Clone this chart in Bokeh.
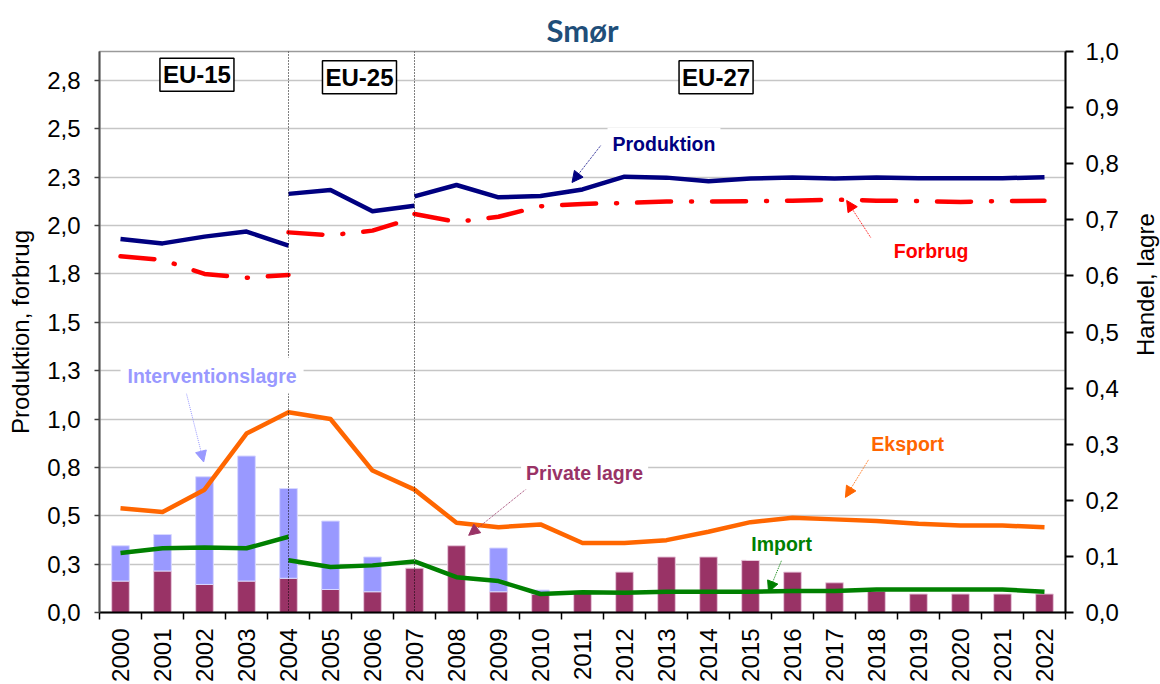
import math
from bokeh.plotting import figure
from bokeh.models import (Range1d, LinearAxis, FixedTicker, Span, Label, Arrow,
                          NormalHead, ColumnDataSource)
from bokeh.embed import file_html
from bokeh.resources import INLINE

# ---------------- data ----------------
years = list(range(2000, 2023))
year_labels = [str(y) for y in years]

left_ticks = [0.0, 0.25, 0.5, 0.75, 1.0, 1.25, 1.5, 1.75, 2.0, 2.25, 2.5, 2.75]
left_tick_labels = ["0,0", "0,3", "0,5", "0,8", "1,0", "1,3", "1,5", "1,8",
                    "2,0", "2,3", "2,5", "2,8"]
right_ticks = [0.0, 0.1, 0.2, 0.3, 0.4, 0.5, 0.6, 0.7, 0.8, 0.9, 1.0]
right_tick_labels = ["0,0", "0,1", "0,2", "0,3", "0,4", "0,5", "0,6", "0,7",
                     "0,8", "0,9", "1,0"]

years_eu15 = [2000, 2001, 2002, 2003, 2004]
years_eu25 = [2004, 2005, 2006, 2007]
years_eu27 = list(range(2007, 2023))

# left axis (mio. t)
produktion_eu15 = [1.931, 1.908, 1.943, 1.969, 1.897]
produktion_eu25 = [2.164, 2.184, 2.074, 2.103]
produktion_eu27 = [2.151, 2.210, 2.146, 2.153, 2.187, 2.253, 2.248, 2.229,
                   2.243, 2.249, 2.244, 2.249, 2.245, 2.245, 2.245, 2.250]

forbrug_eu15 = [1.841, 1.823, 1.750, 1.730, 1.745]
forbrug_eu25 = [1.965, 1.950, 1.974, 2.040]
forbrug_eu27 = [2.060, 2.019, 2.046, 2.100, 2.112, 2.117, 2.124, 2.124,
                2.126, 2.129, 2.134, 2.129, 2.127, 2.122, 2.127, 2.129]

# right axis (mio. t)
eksport = [0.186, 0.179, 0.219, 0.319, 0.357, 0.345, 0.253, 0.219, 0.160,
           0.152, 0.157, 0.124, 0.124, 0.129, 0.144, 0.161, 0.169, 0.166,
           0.163, 0.158, 0.155, 0.155, 0.152]

import_eu15 = [0.106, 0.1145, 0.116, 0.1145, 0.135]
import_eu25 = [0.093, 0.081, 0.084, 0.091]
import_eu27 = [0.091, 0.063, 0.056, 0.033, 0.036, 0.035, 0.037, 0.037,
               0.037, 0.0385, 0.0385, 0.041, 0.041, 0.041, 0.041, 0.037]

private_lagre = [0.056, 0.074, 0.050, 0.056, 0.061, 0.041, 0.037, 0.079,
                 0.119, 0.037, 0.033, 0.038, 0.072, 0.099, 0.099, 0.093,
                 0.072, 0.053, 0.038, 0.033, 0.033, 0.033, 0.033]
interventionslagre = [0.063, 0.065, 0.192, 0.223, 0.160, 0.122, 0.062, 0.0,
                      0.0, 0.078, 0.007, 0.0, 0.0, 0.0, 0.0, 0.0, 0.0, 0.0,
                      0.0, 0.0, 0.0, 0.0, 0.0]

# ---------------- figure ----------------
FONT = "Liberation Sans"

p = figure(width=1160, height=684, output_backend="svg", toolbar_location=None,
           x_range=Range1d(1999.5, 2022.5), y_range=Range1d(0, 2.9),
           min_border_left=99, min_border_right=95, min_border_top=51,
           min_border_bottom=72, background_fill_color="white",
           border_fill_color="white")
p.extra_y_ranges = {"right": Range1d(0, 1.0)}

p.title.text = "Smør"
p.title.align = "center"
p.title.vertical_align = "middle"
p.title.text_font = "Lato"
p.title.text_font_size = "31px"
p.title.text_font_style = "bold"
p.title.text_color = "#1F4E79"
p.title.standoff = 4

p.outline_line_color = "#9A9A9A"
p.outline_line_width = 1.5

# x axis
xa = p.xaxis[0]
xa.ticker = FixedTicker(ticks=years, minor_ticks=[y - 0.5 for y in years] + [years[-1] + 0.5])
xa.major_label_overrides = {y: s for y, s in zip(years, year_labels)}
xa.major_label_orientation = math.pi / 2
xa.major_label_text_font = FONT
xa.major_label_text_font_size = "24px"
xa.major_label_text_color = "black"
xa.major_tick_line_color = None
xa.major_tick_out = 7
xa.major_tick_in = 0
xa.minor_tick_line_color = "black"
xa.minor_tick_line_width = 1.5
xa.minor_tick_out = 7
xa.minor_tick_in = 0
xa.major_label_standoff = 9
xa.axis_line_color = "black"
xa.axis_line_width = 2

# left axis
ya = p.yaxis[0]
ya.ticker = FixedTicker(ticks=left_ticks, minor_ticks=[])
ya.major_label_overrides = {t: s for t, s in zip(left_ticks, left_tick_labels)}
ya.major_label_text_font = FONT
ya.major_label_text_font_size = "24px"
ya.major_label_text_color = "black"
ya.major_tick_out = 5
ya.major_tick_in = 0
ya.major_tick_line_color = "#404040"
ya.major_tick_line_width = 1.5
ya.minor_tick_line_color = None
ya.major_label_standoff = 14
ya.axis_line_color = "#505050"
ya.axis_line_width = 2
ya.axis_label = "Produktion, forbrug"
ya.axis_label_text_font = FONT
ya.axis_label_text_font_size = "24px"
ya.axis_label_text_font_style = "normal"
ya.axis_label_text_color = "black"
ya.axis_label_standoff = 10

# right axis
ra = LinearAxis(y_range_name="right", ticker=FixedTicker(ticks=right_ticks, minor_ticks=[]))
ra.major_label_overrides = {t: s for t, s in zip(right_ticks, right_tick_labels)}
ra.major_label_text_font = FONT
ra.major_label_text_font_size = "24px"
ra.major_label_text_color = "black"
ra.major_tick_out = 8
ra.major_tick_in = 0
ra.major_tick_line_color = "black"
ra.major_tick_line_width = 2
ra.minor_tick_line_color = None
ra.major_label_standoff = 12
ra.axis_line_color = "black"
ra.axis_line_width = 2
p.add_layout(ra, "right")

# right axis title (reads bottom to top), in the right side panel so it is not clipped
p.add_layout(Label(x=2024.40, y=1.695, text="Handel, lagre", angle=math.pi / 2,
                   text_align="center", text_baseline="middle", text_font=FONT,
                   text_font_size="24px", text_color="black"), "right")

p.xgrid.visible = False
p.ygrid.grid_line_color = "#C6C6C6"
p.ygrid.grid_line_width = 1.5

# ---------------- bars ----------------
priv_src = ColumnDataSource(dict(x=years, top=private_lagre))
iv_x = [y for y, v in zip(years, interventionslagre) if v > 0]
iv_b = [b for b, v in zip(private_lagre, interventionslagre) if v > 0]
iv_t = [b + v for b, v in zip(private_lagre, interventionslagre) if v > 0]
iv_src = ColumnDataSource(dict(x=iv_x, bottom=iv_b, top=iv_t))

p.vbar(x="x", width=0.42, bottom=0, top="top", source=priv_src, y_range_name="right",
       fill_color="#993366", line_color="#E8C8DC", line_width=1)
p.vbar(x="x", width=0.42, bottom="bottom", top="top", source=iv_src, y_range_name="right",
       fill_color="#9999FF", line_color="#D8D8FF", line_width=1)

# ---------------- spans ----------------
for loc in (2004, 2007):
    p.add_layout(Span(location=loc, dimension="height", line_color="black",
                      line_dash="1 2", line_width=1))

# ---------------- lines ----------------
LW = 4.5
for xs, ys in ((years_eu15, produktion_eu15), (years_eu25, produktion_eu25),
               (years_eu27, produktion_eu27)):
    p.line(xs, ys, line_color="#000080", line_width=LW, line_join="round")

for xs, ys in ((years_eu15, forbrug_eu15), (years_eu25, forbrug_eu25),
               (years_eu27, forbrug_eu27)):
    p.line(xs, ys, line_color="#FF0000", line_width=LW, line_join="round",
           line_cap="round", line_dash="34 20 1 20")

p.line(years, eksport, line_color="#FF6600", line_width=LW, line_join="round",
       y_range_name="right")

for xs, ys in ((years_eu15, import_eu15), (years_eu25, import_eu25),
               (years_eu27, import_eu27)):
    p.line(xs, ys, line_color="#008000", line_width=LW, line_join="round",
           y_range_name="right")

# ---------------- annotations ----------------
def note(x, y, text, color, x0, y0, x1, y1, pad=5):
    p.add_layout(Arrow(x_start=x0, y_start=y0, x_end=x1, y_end=y1,
                       line_color=color, line_width=1, line_dash="1 1",
                       end=NormalHead(size=11, fill_color=color, line_color=color)))
    p.add_layout(Label(x=x, y=y, text=text, text_align="center", text_baseline="middle",
                       text_font=FONT, text_font_size="19.5px", text_font_style="bold",
                       text_color=color, background_fill_color="white", padding=pad))

note(2012.94, 2.423, "Produktion", "#000080", 2011.43, 2.413, 2010.75, 2.223)
note(2019.30, 1.867, "Forbrug", "#FF0000", 2017.86, 1.939, 2017.29, 2.130)
note(2002.18, 1.225, "Interventionslagre", "#9999FF", 2001.57, 1.132, 2001.98, 0.778, pad=7)
note(2011.05, 0.719, "Private lagre", "#993366", 2009.83, 0.668, 2008.29, 0.399)
note(2018.74, 0.873, "Eksport", "#FF6600", 2017.86, 0.807, 2017.26, 0.595)
note(2015.74, 0.353, "Import", "#008000", 2015.79, 0.296, 2015.43, 0.105)

for x, y, t in ((2001.82, 2.780, "EU-15"), (2005.69, 2.767, "EU-25"), (2014.18, 2.767, "EU-27")):
    p.add_layout(Label(x=x, y=y, text=t, text_align="center", text_baseline="middle",
                       text_font=FONT, text_font_size="24px", text_font_style="bold",
                       text_color="black", background_fill_color="white",
                       border_line_color="black", border_line_width=1.5, padding=3))

open("out.html", "w").write(file_html(p, INLINE))
